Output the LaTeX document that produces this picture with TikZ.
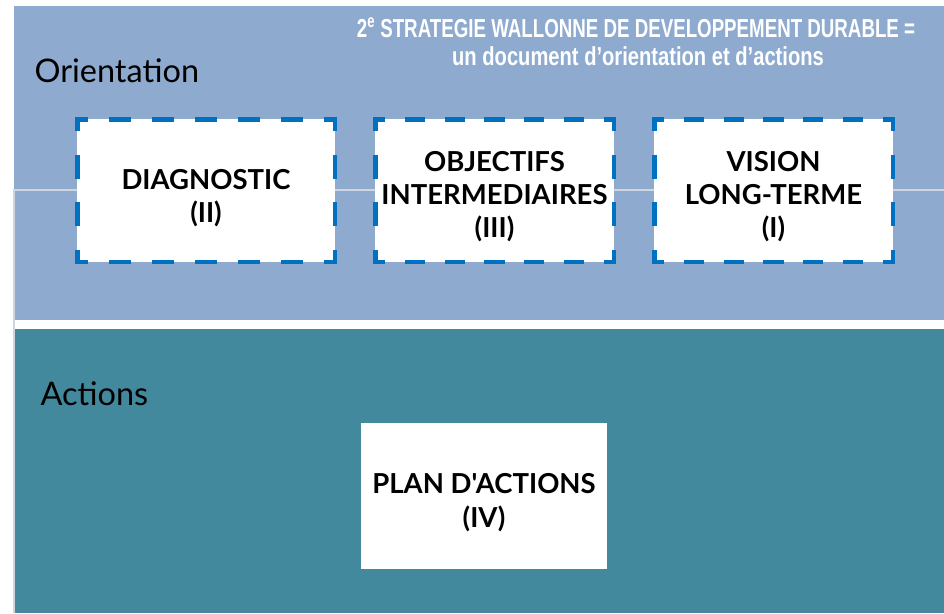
\documentclass[tikz,border=0pt]{standalone}
\usepackage{fontspec}
\setmainfont{Lato}
\newfontfamily\condfont[FakeStretch=0.72]{Liberation Sans}
\newfontfamily\condfontb[FakeStretch=0.775]{Liberation Sans}
\newfontfamily\plainfont{Lato}
\definecolor{bandblue}{HTML}{8FAACF}
\definecolor{bandteal}{HTML}{43899E}
\definecolor{dashblue}{HTML}{0070C0}
\definecolor{thinline}{HTML}{D0D6E0}
\tikzset{
  whitebox/.style={fill=white, draw=none, inner sep=0pt},
  boxtext/.style={align=center, font=\plainfont\bfseries\fontsize{27.5}{33}\selectfont, text=black},
  dl/.style={draw=dashblue, line width=4.7pt, line cap=rect},
  hdash/.style={dl, dash pattern=on 17.2pt off 25.7pt, dash phase=8.6pt},
  hdashs/.style={dl, dash pattern=on 15.5pt off 24.25pt, dash phase=7.75pt},
  vdash/.style={dl, dash pattern=on 19.5pt off 28pt, dash phase=9.75pt},
  sidelabel/.style={anchor=base west, font=\plainfont\fontsize{32.5}{36}\selectfont, text=black},
}
\begin{document}
\begin{tikzpicture}[x=1pt,y=-1pt]
\useasboundingbox (0,0) rectangle (944,613);
\fill[white] (0,0) rectangle (944,613);
% bands
\fill[bandblue] (14,6) rectangle (944,320);
\fill[bandteal] (14,329) rectangle (944,613);
\coordinate (hl) at (14,190);
\coordinate (hr) at (944,190);
\coordinate (vb) at (14,613);
\draw[thinline, line width=1.5pt] (hr) -- (hl) -- (vb);
% title
\node[anchor=base, text=white, font=\condfont\bfseries\fontsize{26}{29}\selectfont] (title1) at (636,37) {2\textsuperscript{e} STRATEGIE WALLONNE DE DEVELOPPEMENT DURABLE =};
\node[anchor=base, text=white, font=\condfontb\bfseries\fontsize{26}{29}\selectfont] (title2) at (638,65) {un document d’orientation et d’actions};
% labels
\node[sidelabel] (orient) at (31,82) {Orientation};
\node[sidelabel] (actions) at (37,405) {Actions};
% dashed boxes
\node[whitebox, minimum width=257.3pt, minimum height=142.3pt] (diag) at (206,190.5) {};
\node[whitebox, minimum width=238.3pt, minimum height=142.3pt] (obj) at (494.5,190.5) {};
\node[whitebox, minimum width=238.3pt, minimum height=142.3pt] (vis) at (773.5,190.5) {};
\node[boxtext] (diagt) at (206,198) {DIAGNOSTIC\\(II)};
\node[boxtext] (objt) at (494.5,197) {OBJECTIFS\\INTERMEDIAIRES\\(III)};
\node[boxtext] (vist) at (773.5,197) {VISION\\LONG-TERME\\(I)};
% borders, dashes centred on the corners
\draw[hdash] (diag.north west) -- (diag.north east);
\draw[hdash] (diag.south west) -- (diag.south east);
\draw[vdash] (diag.north west) -- (diag.south west);
\draw[vdash] (diag.north east) -- (diag.south east);
\foreach \b in {obj,vis}{
  \draw[hdashs] (\b.north west) -- (\b.north east);
  \draw[hdashs] (\b.south west) -- (\b.south east);
  \draw[vdash] (\b.north west) -- (\b.south west);
  \draw[vdash] (\b.north east) -- (\b.south east);
}
% plan box
\node[whitebox, minimum width=246pt, minimum height=146pt] (plan) at (484,496) {};
\node[boxtext, font=\plainfont\bfseries\fontsize{27.5}{34}\selectfont] (plant) at (484,503) {PLAN D'ACTIONS\\(IV)};
\end{tikzpicture}
\end{document}
